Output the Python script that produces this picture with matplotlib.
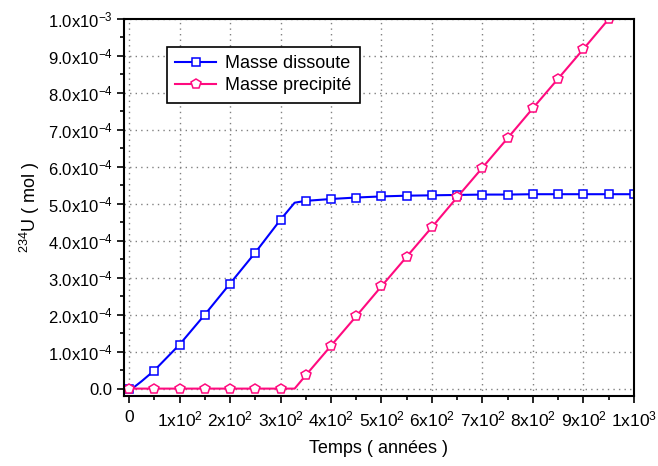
import numpy as np
import matplotlib.pyplot as plt
from matplotlib.ticker import MultipleLocator

plt.rcParams['font.family'] = ['Liberation Sans', 'DejaVu Sans']
plt.rcParams['mathtext.fontset'] = 'custom'
plt.rcParams['mathtext.rm'] = 'Liberation Sans'
plt.rcParams['mathtext.default'] = 'regular'

# time (years) and masses (mol)
t_dissoute = [0, 10, 25, 50, 100, 150, 200, 250, 300, 328, 350, 400, 450, 500,
              550, 600, 650, 700, 750, 800, 850, 900, 950, 1000]
m_dissoute = [0, 0.04, 0.2, 0.49, 1.19, 2.0, 2.84, 3.68, 4.57, 5.03, 5.08, 5.13,
              5.17, 5.20, 5.22, 5.23, 5.24, 5.25, 5.25, 5.26, 5.26, 5.26, 5.26, 5.26]
t_precip = [0, 50, 100, 150, 200, 250, 300, 328, 350, 400, 450, 500, 550, 600,
            650, 700, 750, 800, 850, 900, 950]
m_precip = [0, 0, 0, 0, 0, 0, 0, 0, 0.36, 1.16, 1.96, 2.77, 3.57, 4.37,
            5.18, 5.98, 6.78, 7.59, 8.39, 9.19, 10.0]

xticks = [0, 100, 200, 300, 400, 500, 600, 700, 800, 900, 1000]
xtick_labels = ['0'] + ['%dx10$^2$' % k for k in range(1, 10)] + ['1x10$^3$']
yticks = [k * 1e-4 for k in range(11)]
ytick_labels = ['0.0'] + ['%d.0x10$^{-4}$' % k for k in range(1, 10)] + ['1.0x10$^{-3}$']

t_d = np.array(t_dissoute)
m_d = np.array(m_dissoute) * 1e-4
t_p = np.array(t_precip)
m_p = np.array(m_precip) * 1e-4
mk_d = [i for i, t in enumerate(t_dissoute) if t % 50 == 0]
mk_p = [i for i, t in enumerate(t_precip) if t % 50 == 0]

fig = plt.figure(figsize=(6.58, 4.66), dpi=100)
ax = fig.add_axes([0.1884, 0.1502, 0.7751, 0.809])

ax.plot(t_d, m_d, color='#0000ff', lw=1.5, marker='s', markersize=6,
        markerfacecolor='white', markeredgecolor='#0000ff', markeredgewidth=1.1,
        markevery=mk_d, label='Masse dissoute')
ax.plot(t_p, m_p, color='#ff0a7f', lw=1.5, marker='p', markersize=7.5,
        markerfacecolor='white', markeredgecolor='#ff0a7f', markeredgewidth=1.1,
        markevery=mk_p, label='Masse precipité')

ax.set_xlim(-10, 1000)
ax.set_ylim(-0.2e-4, 1e-3)
ax.set_xticks(xticks, xtick_labels, fontsize=12.5)
ax.set_yticks(yticks, ytick_labels, fontsize=12)
ax.xaxis.set_minor_locator(MultipleLocator(50))
ax.yaxis.set_minor_locator(MultipleLocator(0.5e-4))
ax.tick_params(which='major', direction='out', length=5, width=1.2)
ax.tick_params(which='minor', direction='out', length=3, width=1.2)
ax.tick_params(axis='x', pad=5)
ax.tick_params(axis='y', pad=3)
for s in ax.spines.values():
    s.set_linewidth(1.5)

ax.grid(True, which='major', color='#808080', linestyle=(0, (1, 3)), linewidth=1)

ax.set_xlabel('Temps ( années )', fontsize=13, labelpad=7)
ax.set_ylabel('$^{234}$U ( mol )', fontsize=13, labelpad=4)

leg = ax.legend(loc='upper left', bbox_to_anchor=(0.084, 0.926), borderaxespad=0,
                fontsize=13, fancybox=False, framealpha=1, handlelength=2.3,
                borderpad=0.45, labelspacing=0.3, handletextpad=0.5)
leg.get_frame().set_edgecolor('black')
leg.get_frame().set_linewidth(1.2)

plt.savefig('out.png', dpi=100)
